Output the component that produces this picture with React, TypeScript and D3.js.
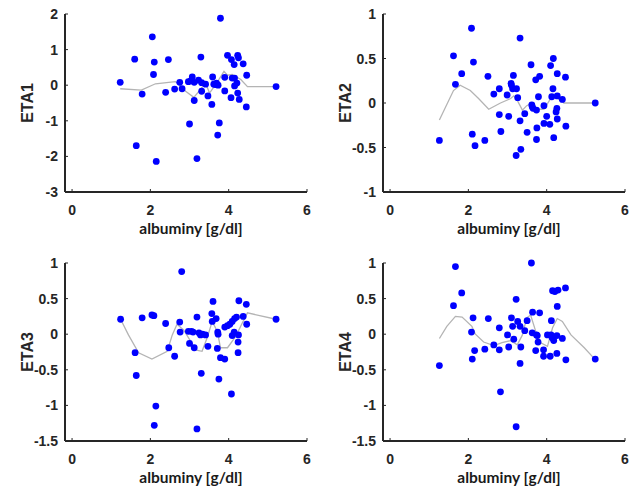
import * as d3 from 'd3'

// albuminy [g/dl] vs ETA, four panels
const X_TICKS = [0, 2, 4, 6]
const ETA1_TICKS = [-3, -2, -1, 0, 1, 2]
const ETA2_TICKS = [-1, -0.5, 0, 0.5, 1]
const ETA34_TICKS = [-1.5, -1, -0.5, 0, 0.5, 1]

const ETA1_POINTS: [number, number][] = [
  [1.23, 0.08], [2.05, 1.36], [1.6, 0.73], [2.1, 0.65], [2.46, 0.72], [2.08, 0.3],
  [1.79, -0.25], [2.39, -0.2], [2.62, -0.11], [2.75, 0.08], [2.81, -0.1], [3.29, 0.79],
  [3.79, 1.88], [1.64, -1.7], [2.15, -2.14], [3.0, -1.09], [3.19, -2.06], [3.76, -1.06],
  [3.72, -1.4], [2.97, 0.1], [3.07, 0.23], [3.12, 0.08], [3.23, 0.14], [3.31, 0.07],
  [3.41, 0.03], [3.12, -0.43], [3.31, -0.17], [3.47, -0.3], [3.57, -0.54], [3.59, 0.23],
  [3.62, 0.03], [3.69, 0.06], [3.73, 0.0], [3.9, 0.22], [3.9, -0.16], [3.97, 0.84],
  [4.07, 0.72], [4.14, 0.58], [4.23, 0.84], [4.25, 0.77], [4.37, 0.6], [4.46, 0.28],
  [4.09, 0.2], [4.15, 0.2], [4.21, 0.06], [4.15, -0.02], [4.23, -0.22], [4.06, -0.35],
  [4.27, -0.4], [4.45, -0.61], [5.21, -0.04], [3.66, 0.02], [3.03, 0.12]
]
const ETA1_SMOOTH: [number, number][] = [
  [1.23, -0.1], [1.77, -0.14], [2.13, 0.04], [2.47, 0.08], [2.64, 0.1], [2.72, 0.04],
  [2.9, -0.17], [3.11, -0.34], [3.28, -0.12], [3.41, 0.07], [3.51, -0.22], [3.67, 0.02],
  [3.88, 0.39], [3.97, 0.28], [4.09, 0.3], [4.31, 0.16], [4.48, -0.04], [5.21, -0.04]
]

const ETA2_POINTS: [number, number][] = [
  [2.08, 0.84], [3.32, 0.73], [1.62, 0.53], [2.13, 0.46], [1.83, 0.33], [1.67, 0.21],
  [2.5, 0.3], [1.26, -0.42], [2.1, -0.35], [2.17, -0.48], [2.42, -0.42], [2.79, 0.16],
  [2.65, 0.1], [2.79, -0.13], [2.83, -0.32], [3.03, -0.15], [2.99, 0.09], [3.15, 0.31],
  [3.09, 0.22], [3.13, 0.16], [3.23, 0.16], [3.26, 0.06], [3.32, -0.2], [3.22, -0.59],
  [3.34, -0.52], [3.5, -0.33], [3.44, -0.12], [3.6, 0.43], [3.72, 0.26], [3.82, 0.3],
  [3.79, 0.07], [3.62, -0.02], [3.65, -0.06], [3.74, -0.08], [3.75, -0.28], [3.74, -0.41],
  [3.93, -0.03], [4.0, -0.15], [3.93, -0.23], [4.08, -0.24], [4.1, 0.42], [4.17, 0.5],
  [4.16, 0.16], [4.13, 0.07], [4.27, 0.08], [4.27, 0.33], [4.4, 0.04], [4.48, 0.29],
  [4.26, -0.06], [4.24, -0.1], [4.27, -0.18], [4.18, -0.39], [4.49, -0.26], [5.24, 0.0],
  [3.1, 0.2], [3.63, -0.04]
]
const ETA2_SMOOTH: [number, number][] = [
  [1.26, -0.19], [1.62, 0.14], [1.79, 0.2], [2.05, 0.14], [2.26, 0.05], [2.52, -0.07],
  [2.82, 0.0], [3.08, 0.05], [3.16, 0.08], [3.25, 0.03], [3.38, -0.08], [3.49, -0.03],
  [3.63, 0.0], [3.72, -0.07], [3.93, -0.07], [4.1, 0.05], [4.23, 0.07], [4.44, 0.0],
  [5.24, 0.0]
]

const ETA3_POINTS: [number, number][] = [
  [2.8, 0.88], [1.24, 0.21], [1.79, 0.23], [2.04, 0.27], [2.09, 0.26], [2.39, 0.15],
  [1.61, -0.26], [1.64, -0.58], [2.14, -1.01], [2.1, -1.28], [3.19, -1.33], [2.47, -0.19],
  [2.62, -0.31], [2.75, 0.17], [2.76, 0.03], [3.0, -0.13], [2.97, 0.04], [3.05, 0.04],
  [3.09, 0.03], [3.12, -0.19], [3.19, 0.24], [3.24, 0.02], [3.28, -0.01], [3.33, 0.0],
  [3.41, -0.01], [3.3, -0.55], [3.47, -0.17], [3.6, 0.46], [3.57, 0.29], [3.68, 0.22],
  [3.58, 0.18], [3.72, 0.03], [3.73, 0.0], [3.71, -0.2], [3.79, -0.33], [3.9, -0.35],
  [3.75, -0.63], [4.07, -0.84], [3.9, 0.1], [3.97, 0.12], [4.03, 0.14], [4.09, 0.18],
  [4.15, 0.22], [4.2, 0.24], [4.26, 0.47], [4.45, 0.42], [4.37, 0.25], [4.46, 0.14],
  [4.14, 0.03], [4.09, -0.02], [4.25, -0.01], [4.24, -0.11], [4.24, -0.26], [5.21, 0.21]
]
const ETA3_SMOOTH: [number, number][] = [
  [1.24, 0.21], [1.44, -0.01], [1.7, -0.26], [2.04, -0.35], [2.43, -0.24], [2.56, -0.01],
  [2.68, 0.14], [2.85, 0.06], [3.03, -0.1], [3.15, -0.22], [3.32, -0.24], [3.45, -0.05],
  [3.58, 0.18], [3.71, 0.04], [3.79, -0.19], [3.97, -0.19], [4.18, -0.03], [4.35, 0.16],
  [4.48, 0.3], [5.21, 0.21]
]

const ETA4_POINTS: [number, number][] = [
  [1.67, 0.95], [3.61, 1.0], [1.83, 0.58], [1.62, 0.4], [1.26, -0.44], [2.12, 0.23],
  [2.08, 0.03], [2.16, -0.23], [2.1, -0.35], [2.42, -0.21], [2.51, 0.22], [2.65, -0.15],
  [2.79, -0.22], [2.79, 0.09], [2.82, -0.81], [3.03, -0.18], [3.0, -0.01], [3.1, 0.23],
  [3.13, 0.11], [3.16, -0.07], [3.22, 0.49], [3.26, 0.18], [3.32, 0.11], [3.34, -0.18],
  [3.32, -0.41], [3.22, -1.3], [3.44, 0.05], [3.5, 0.19], [3.64, 0.31], [3.82, 0.3],
  [3.63, 0.02], [3.74, -0.01], [3.76, -0.02], [3.78, -0.11], [3.72, -0.23], [3.92, -0.22],
  [3.92, -0.31], [4.09, -0.31], [4.02, -0.01], [4.11, -0.01], [4.18, -0.09], [4.12, 0.19],
  [4.15, 0.61], [4.21, 0.6], [4.29, 0.62], [4.48, 0.65], [4.27, 0.39], [4.26, -0.02],
  [4.4, -0.06], [4.26, -0.27], [4.49, -0.36], [5.24, -0.35], [4.14, -0.05]
]
const ETA4_SMOOTH: [number, number][] = [
  [1.26, -0.06], [1.45, 0.11], [1.67, 0.25], [1.84, 0.24], [2.09, 0.11], [2.18, 0.0],
  [2.39, -0.11], [2.65, -0.16], [2.86, -0.12], [3.08, -0.09], [3.25, -0.15], [3.38, -0.01],
  [3.49, 0.23], [3.59, 0.27], [3.72, 0.04], [3.85, -0.12], [4.02, -0.17], [4.15, 0.09],
  [4.27, 0.22], [4.4, 0.18], [4.62, -0.01], [4.96, -0.19], [5.21, -0.34]
]

type PanelProps = {
  left: number
  top: number
  label: string
  yDomain: [number, number]
  yTicks: number[]
  points: [number, number][]
  smooth: [number, number][]
}

const W = 242
const H = 178
const INK = '#262626'

function Panel({ left, top, label, yDomain, yTicks, points, smooth }: PanelProps) {
  const x = d3.scaleLinear().domain([-0.18, 6]).range([0, W])
  const y = d3.scaleLinear().domain(yDomain).range([H, 0])
  const line = d3.line<[number, number]>().x(d => x(d[0])).y(d => y(d[1]))

  return (
    <g transform={`translate(${left},${top})`}>
      <path d={line(smooth) ?? ''} fill="none" stroke="#b4b4b4" strokeWidth={1.3} />
      {points.map((p, i) => (
        <circle key={i} cx={x(p[0])} cy={y(p[1])} r={3.4} fill="#0000ff" />
      ))}

      {/* axes */}
      <line x1={0} x2={W} y1={H} y2={H} stroke={INK} strokeWidth={2} />
      <line x1={0} x2={0} y1={0} y2={H} stroke={INK} strokeWidth={2} />
      {X_TICKS.map(t => (
        <g key={t}>
          <line x1={x(t)} x2={x(t)} y1={H} y2={H - 3} stroke={INK} strokeWidth={1} />
          <text x={x(t)} y={H + 23} textAnchor="middle" fontSize={14} fontWeight="bold"
            fontFamily="'Liberation Sans', Arial, sans-serif" fill={INK}>{t}</text>
        </g>
      ))}
      {yTicks.map(t => (
        <g key={t}>
          <line x1={0} x2={3} y1={y(t)} y2={y(t)} stroke={INK} strokeWidth={1} />
          <text x={-7} y={y(t) + 5} textAnchor="end" fontSize={14} fontWeight="bold"
            fontFamily="'Liberation Sans', Arial, sans-serif" fill={INK}>{t}</text>
        </g>
      ))}

      <text x={W / 2 + 5} y={H + 42} textAnchor="middle" fontSize={15.5} fontWeight="bold"
        fontFamily="Lato, 'Open Sans', sans-serif" fill="#1a1a1a">albuminy [g/dl]</text>
      <text transform={`translate(${-32},${H / 2}) rotate(-90)`} textAnchor="middle"
        fontSize={16} fontWeight="bold" fontFamily="'Liberation Sans', Arial, sans-serif"
        fill={INK}>{label}</text>
    </g>
  )
}

export default function App() {
  return (
    <svg width={630} height={488} style={{ position: 'absolute', left: 0, top: 0, background: '#fff' }}>
      <Panel left={65} top={14} label="ETA1" yDomain={[-3, 2]} yTicks={ETA1_TICKS}
        points={ETA1_POINTS} smooth={ETA1_SMOOTH} />
      <Panel left={383} top={14} label="ETA2" yDomain={[-1, 1]} yTicks={ETA2_TICKS}
        points={ETA2_POINTS} smooth={ETA2_SMOOTH} />
      <Panel left={65} top={263} label="ETA3" yDomain={[-1.5, 1]} yTicks={ETA34_TICKS}
        points={ETA3_POINTS} smooth={ETA3_SMOOTH} />
      <Panel left={383} top={263} label="ETA4" yDomain={[-1.5, 1]} yTicks={ETA34_TICKS}
        points={ETA4_POINTS} smooth={ETA4_SMOOTH} />
    </svg>
  )
}
